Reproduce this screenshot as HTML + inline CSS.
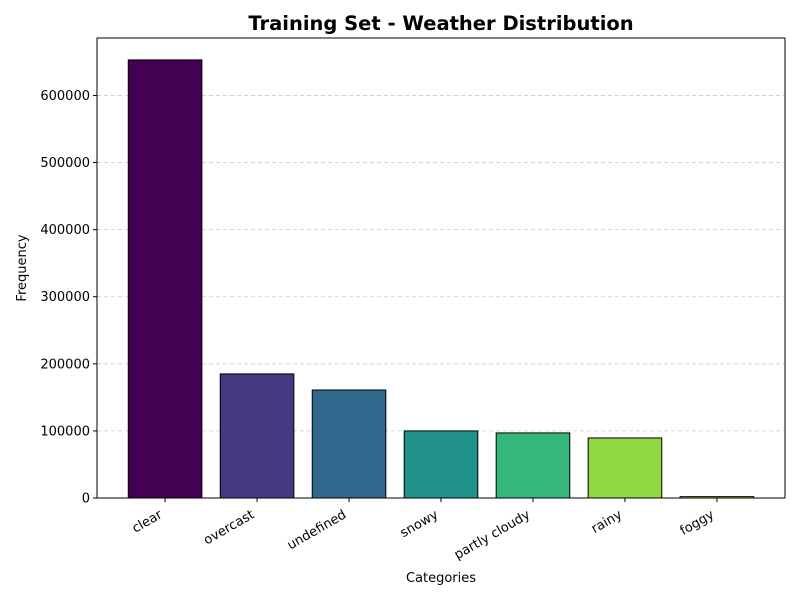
<!DOCTYPE html>
<html><head><meta charset="utf-8"><style>
body{margin:0;background:#fff}
svg{display:block;font-family:"DejaVu Sans","Liberation Sans",sans-serif}
</style></head><body>
<svg id="chart" width="800" height="600">
<rect width="800" height="600" fill="#fff"/>
<text x="441" y="30" text-anchor="middle" font-size="19.5" font-weight="bold">Training Set - Weather Distribution</text>
<g id="grid"></g><g id="bars"></g><g id="axes"></g>
<text x="441" y="582" text-anchor="middle" font-size="13">Categories</text>
<text transform="translate(26,268) rotate(-90)" text-anchor="middle" font-size="13">Frequency</text>
</svg>
<script>
const categories=["clear","overcast","undefined","snowy","partly cloudy","rainy","foggy"];
const values=[653000,185000,161000,100000,97000,89500,2000];
const colors=["#440154","#443983","#31688e","#21918c","#35b779","#90d743","#fde725"];
const yTicks=[0,100000,200000,300000,400000,500000,600000];
const L=97,R=785,T=38,B=498;
const n=categories.length;
const xmin=-0.74,xmax=n-1+0.74;
const ymax=Math.max(...values)*1.05;
const xs=i=>L+(i-xmin)/(xmax-xmin)*(R-L);
const ys=v=>B-v/ymax*(B-T);
const bw=0.8*(R-L)/(xmax-xmin);
const NS="http://www.w3.org/2000/svg";
function mk(tag,attrs,parent,text){const e=document.createElementNS(NS,tag);for(const k in attrs)e.setAttribute(k,attrs[k]);if(text!=null)e.textContent=text;document.getElementById(parent).appendChild(e);return e;}
yTicks.forEach(t=>{
 const y=ys(t);
 if(t>0){const g=mk("line",{x1:L,x2:R,y1:y,y2:y,stroke:"#ccc","stroke-dasharray":"4,3","stroke-width":0.8},"grid");
 
 }
 const tk=mk("line",{x1:L-4,x2:L,y1:y,y2:y,stroke:"#000"},"axes");
 
 
 const lb=mk("text",{x:L-7,y:y+4.5,"text-anchor":"end","font-size":13},"axes",String(t));
 
 
});
values.forEach((v,i)=>{
 const x=xs(i);
 const r=mk("rect",{x:x-bw/2,y:ys(v),width:bw,height:B-ys(v),fill:colors[i],stroke:"#000","stroke-width":1},"bars");
 
 
 const tk=mk("line",{x1:x,x2:x,y1:B,y2:B+4,stroke:"#000"},"axes");
 
 
 const lb=mk("text",{x:0,y:0,"text-anchor":"end","font-size":13,transform:`translate(${x-2},${B+19}) rotate(-30)`},"axes",categories[i]);
 
 
});
const fr=mk("rect",{x:L,y:T,width:R-L,height:B-T,fill:"none",stroke:"#000","stroke-width":1},"axes");


</script>
</body></html>
